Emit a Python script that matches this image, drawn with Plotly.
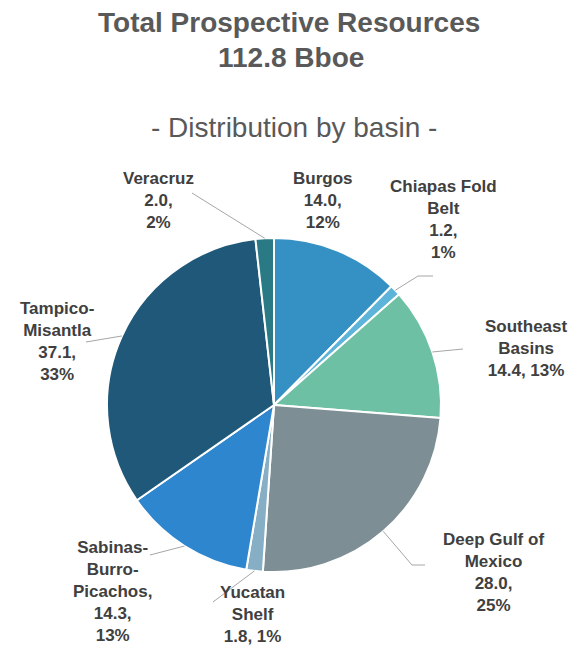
import math
import plotly.graph_objects as go

# ---- data ----
basins = ["Burgos", "Chiapas Fold Belt", "Southeast Basins", "Deep Gulf of Mexico",
          "Yucatan Shelf", "Sabinas-Burro-Picachos", "Tampico-Misantla", "Veracruz"]
values = [14.0, 1.2, 14.4, 28.0, 1.8, 14.3, 37.1, 2.0]
pct_labels = ["12%", "1%", "13%", "25%", "1%", "13%", "33%", "2%"]
label_texts = [
    "Burgos<br>14.0,<br>12%",
    "Chiapas Fold<br>Belt<br>1.2,<br>1%",
    "Southeast<br>Basins<br>14.4, 13%",
    "Deep Gulf of<br>Mexico<br>28.0,<br>25%",
    "Yucatan<br>Shelf<br>1.8, 1%",
    "Sabinas-<br>Burro-<br>Picachos,<br>14.3,<br>13%",
    "Tampico-<br>Misantla<br>37.1,<br>33%",
    "Veracruz<br>2.0,<br>2%",
]
colors = ["#3591C4", "#5DB4DA", "#6DC0A3", "#7D8E95",
          "#86AEC4", "#2E86CF", "#1F5878", "#2A7A85"]
total_label = "112.8 Bboe"

OFF = 8  # page body margin
W, H = 580 - 2 * OFF, 654 - 2 * OFF
CX, CY, R = 274, 405, 167

# label block centres (page pixels) and leader-line waypoints (page pixels, after the slice edge)
label_pos = [(323, 200), (443, 220), (526, 348), (493, 572),
             (252, 614), (112, 591), (57, 341), (158, 200)]
leader_pts = [None, [(418, 276), (433, 276)], [(463, 349)], [(412, 565), (425, 565)],
              [(213, 602)], [(150, 555)], [(86, 342)], [(192, 193)]]


def px(x, y):
    return (x - OFF) / W, 1 - (y - OFF) / H


fig = go.Figure(go.Pie(
    labels=basins, values=values, sort=False, direction="clockwise", rotation=0,
    marker=dict(colors=colors, line=dict(color="white", width=2)),
    textinfo="none", showlegend=False,
    domain=dict(x=[px(CX - R, 0)[0], px(CX + R, 0)[0]],
                y=[px(0, CY + R)[1], px(0, CY - R)[1]]),
))

annotations = []
for t, x, y, bold in [("Total Prospective Resources", 289, 23, True),
                      (total_label, 291, 57, True),
                      ("- Distribution by basin -", 294, 128, False)]:
    xx, yy = px(x, y)
    annotations.append(dict(text=("<b>%s</b>" % t) if bold else t, x=xx, y=yy,
                            font=dict(size=28, color="#595959")))
for (lx, ly), t in zip(label_pos, label_texts):
    xx, yy = px(lx, ly)
    annotations.append(dict(text="<b>" + t + "</b>", x=xx, y=yy,
                            font=dict(size=17, color="#404040")))
for a in annotations:
    a.update(xref="paper", yref="paper", showarrow=False, xanchor="center", yanchor="middle",
             align="center")

shapes = []
total = sum(values)
cum = 0.0
for v, pts in zip(values, leader_pts):
    mid = (cum + v / 2) / total * 2 * math.pi
    cum += v
    if not pts:
        continue
    ex, ey = CX + R * math.sin(mid), CY - R * math.cos(mid)
    seq = [(ex, ey)] + pts
    path = "M " + " L ".join("%f,%f" % px(x, y) for x, y in seq)
    shapes.append(dict(type="path", path=path, xref="paper", yref="paper",
                       line=dict(color="#A6A6A6", width=1)))

fig.update_layout(
    width=W, height=H, margin=dict(l=0, r=0, t=0, b=0),
    paper_bgcolor="white", plot_bgcolor="white",
    font=dict(family="Liberation Sans, Arial, sans-serif"),
    annotations=annotations, shapes=shapes,
)
fig.write_html("out.html")
